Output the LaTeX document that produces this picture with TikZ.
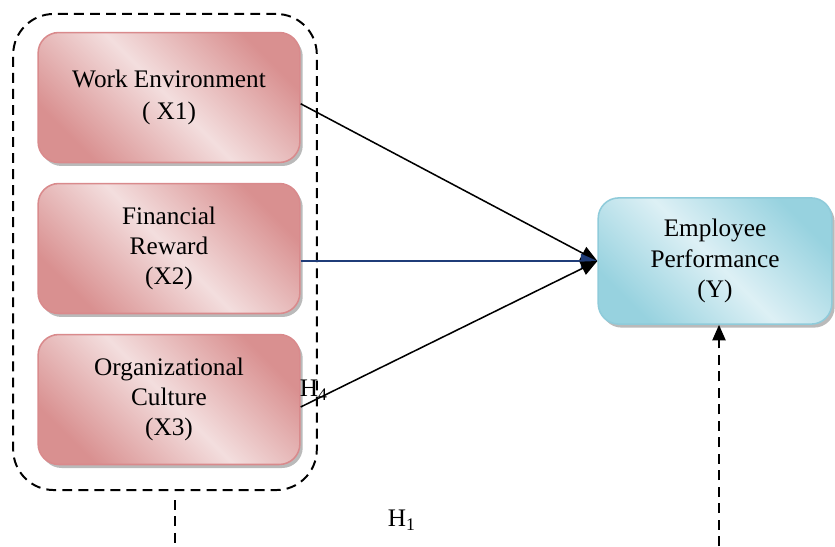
\documentclass[tikz,border=0pt]{standalone}
\usepackage{fontspec}
\setmainfont{Liberation Serif}
\usetikzlibrary{arrows.meta,positioning,shadows,calc}
\definecolor{rosedark}{HTML}{D99090}
\definecolor{roselight}{HTML}{F3DEDE}
\definecolor{roseedge}{HTML}{D98A8C}
\definecolor{aquadark}{HTML}{97D2DF}
\definecolor{aqualight}{HTML}{DDF0F5}
\definecolor{aquaedge}{HTML}{8FCBDA}
\definecolor{navy}{HTML}{1F3C78}
\tikzset{
  varbox/.style={
    rectangle, rounded corners=0.33cm, draw=#1edge, line width=0.7pt,
    left color=#1dark, right color=#1dark, middle color=#1light, shading angle=135,
    minimum width=4.19cm, minimum height=2.08cm,
    font=\fontsize{11.5}{13.8}\selectfont, align=center, inner sep=2pt,
    drop shadow={shadow xshift=1.3pt, shadow yshift=-1.6pt, fill=black!45, opacity=0.6}
  },
  varbox/.default=rose,
  grpframe/.style={
    rectangle, rounded corners=0.65cm, draw=black, line width=0.9pt,
    dash pattern=on 4.5pt off 2.8pt, minimum width=4.86cm, minimum height=7.62cm
  },
  effarrow/.style={
    -{Triangle[length=7.5pt,width=6.5pt]}, line width=0.7pt, color=#1
  },
  effarrow/.default=black,
  hypline/.style={
    line width=0.6pt, dash pattern=on 4.5pt off 3pt
  },
  hyplabel/.style={
    font=\fontsize{11.5}{13.5}\selectfont, inner sep=0pt
  },
}
\begin{document}
\begin{tikzpicture}[x=0.016cm, y=-0.016cm]
  \useasboundingbox (0,0) rectangle (835,546);

  % Independent variables
  \node[varbox, font=\fontsize{11.5}{14.8}\selectfont] (x1) at (169,97.5) {Work Environment\\( X1)};
  \node[varbox] (x2) at (169,248.5) {Financial\\Reward\\(X2)};
  \node[varbox] (x3) at (169,399.5) {Organizational\\Culture\\(X3)};
  \node[grpframe] (grp) at (165,252) {};

  % Dependent variable
  \node[varbox=aqua, minimum width=3.74cm, minimum height=2.02cm] (perf) at (715,261)
    {Employee\\Performance\\(Y)};

  % Partial effects
  \draw[effarrow] ([yshift=-0.1cm]x1.east) -- (perf.west);
  \draw[effarrow=navy] (x2.east |- perf.west) -- (perf.west);
  \draw[effarrow] ([yshift=-0.12cm]x3.east) -- (perf.west);

  % Simultaneous effect
  \coordinate (hleft) at (175,546);
  \coordinate (hright) at (719,546);
  \draw[hypline] (175,500) -- (hleft);
  \draw[hypline, -{Triangle[length=7pt,width=6pt]}] (hright) -- (hright |- perf.south);

  \node[hyplabel] (h4) at (314,390) {H\textsubscript{4}};
  \node[hyplabel] (h1) at (402,520) {H\textsubscript{1}};
\end{tikzpicture}
\end{document}
